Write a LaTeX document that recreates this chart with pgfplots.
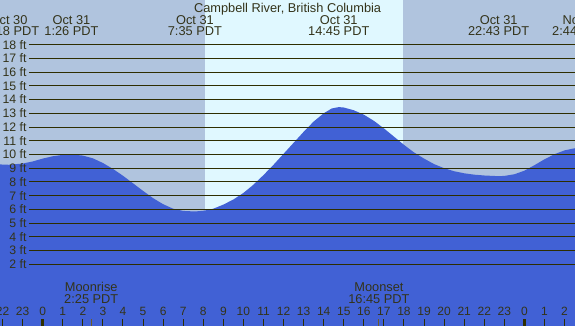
\documentclass[border=0pt]{standalone}
\usepackage{pgfplots}
\usepackage{pgfplotstable}
\pgfplotsset{compat=1.18}
\usepackage{fontspec}
\setmainfont{Liberation Sans}
\definecolor{night}{HTML}{B0C4DE}
\definecolor{day}{HTML}{E0F8FF}
\definecolor{tide}{HTML}{4161D5}
\definecolor{ink}{HTML}{33331A}
\definecolor{rule}{HTML}{2E2E00}
\definecolor{moon}{HTML}{6B5A2A}
\newcommand\lab{\fontsize{12.8}{14}\selectfont}
\newcommand\ftlab{\fontsize{12.3}{14}\selectfont}
\newcommand\hrlab{\fontsize{12}{14}\selectfont}

% hours from Oct 31 00:00 PDT, height in ft
\pgfplotstableread{
t h
-2.2 9.28
-1.7 9.25
-1.0 9.34
-0.5 9.49
0.0 9.70
0.5 9.87
1.0 9.97
1.43 10.00
2.0 9.92
2.5 9.72
3.0 9.38
3.5 8.95
4.0 8.45
4.5 7.90
5.0 7.35
5.5 6.82
6.0 6.38
6.5 6.05
7.0 5.89
7.58 5.85
8.0 5.90
8.5 6.05
9.0 6.35
9.5 6.72
10.0 7.20
10.5 7.80
11.0 8.50
11.5 9.25
12.0 10.05
12.5 10.85
13.0 11.65
13.5 12.40
14.0 13.00
14.4 13.35
14.75 13.45
15.0 13.42
15.5 13.22
16.0 12.90
16.5 12.45
17.0 11.90
17.5 11.30
18.0 10.70
18.5 10.15
19.0 9.70
19.5 9.30
20.0 9.00
20.5 8.78
21.0 8.63
21.5 8.53
22.0 8.47
22.72 8.42
23.0 8.44
23.5 8.56
24.0 8.82
24.5 9.22
25.0 9.65
25.5 10.02
26.0 10.30
26.6 10.48
26.6 -3
-2.2 -3
}\tide

\begin{document}
\begin{tikzpicture}
\begin{axis}[
    at={(0pt,0pt)}, anchor=south west,
    width=575pt, height=326pt, scale only axis,
    xmin=-2.127, xmax=26.52,
    ymin=-2.49, ymax=21.25,
    hide axis, clip=true,
  ]
% night and daylight
\addplot[fill=night, draw=none] coordinates {(-3,-3) (27,-3) (27,22) (-3,22)} -- cycle;
\addplot[fill=day, draw=none] coordinates {(8.08,-3) (17.95,-3) (17.95,22) (8.08,22)} -- cycle;
% water
\addplot[fill=tide, draw=none] table[x=t, y=h] {\tide} -- cycle;
% height rules
\pgfplotsinvokeforeach{2,...,18}{
  \addplot[rule, line width=1pt] coordinates {(-0.683,#1) (27,#1)};
  \node[anchor=east, inner sep=0pt, text=ink, font=\ftlab] at (axis cs:-0.797,#1) {#1 ft};
}
% hour ticks
\pgfplotsinvokeforeach{-2,...,26}{
  \addplot[rule, line width=1pt] coordinates {(#1,-2.0) (#1,-2.7)};
}
\addplot[rule, line width=3pt] coordinates {(0,-2.0) (0,-2.7)};
\addplot[rule, line width=3pt] coordinates {(24,-2.0) (24,-2.7)};
\addplot[moon, line width=1pt] coordinates {(2.42,-2.0) (2.42,-2.7)};
\addplot[moon, line width=1pt] coordinates {(16.75,-2.0) (16.75,-2.7)};
\foreach \t/\l in {-2/22,-1/23,0/0,1/1,2/2,3/3,4/4,5/5,6/6,7/7,8/8,9/9,10/10,11/11,12/12,
    13/13,14/14,15/15,16/16,17/17,18/18,19/19,20/20,21/21,22/22,23/23,24/0,25/1,26/2}{
  \edef\tmp{\noexpand\node[anchor=base, inner sep=0pt, text=ink, font=\noexpand\hrlab] at (axis cs:\t,-1.76) {\l};}
  \tmp
}
% moon
\node[anchor=base, inner sep=0pt, text=ink, font=\lab] at (axis cs:2.42,0.0) {Moonrise};
\node[anchor=base, inner sep=0pt, text=ink, font=\lab] at (axis cs:2.42,-0.84) {2:25 PDT};
\node[anchor=base, inner sep=0pt, text=ink, font=\lab] at (axis cs:16.75,0.0) {Moonset};
\node[anchor=base, inner sep=0pt, text=ink, font=\lab] at (axis cs:16.75,-0.84) {16:45 PDT};
% title and tide times
\node[anchor=base, inner sep=0pt, text=ink, font=\lab] at (axis cs:12.2,20.36) {Campbell River, British Columbia};
\foreach \t/\d/\h in {-1.7/Oct 30/22:18, 1.433/Oct 31/1:26, 7.583/Oct 31/7:35,
    14.75/Oct 31/14:45, 22.717/Oct 31/22:43, 26.733/Nov 1/2:44}{
  \edef\tmp{\noexpand\node[anchor=base, inner sep=0pt, text=ink, font=\noexpand\lab] at (axis cs:\t,19.5) {\d};
    \noexpand\node[anchor=base, inner sep=0pt, text=ink, font=\noexpand\lab] at (axis cs:\t,18.63) {\h\space PDT};}
  \tmp
}
\end{axis}
\pgfresetboundingbox
\path[use as bounding box] (0,0) rectangle (575pt,326pt);
\end{tikzpicture}
\end{document}
